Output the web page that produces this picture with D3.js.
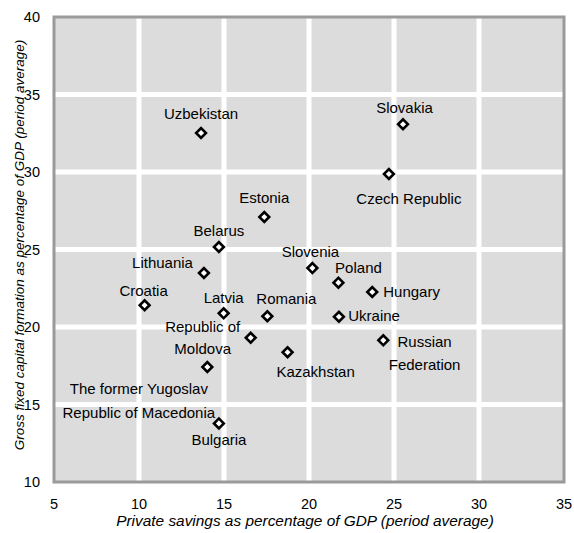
<html>
<head>
<script src="https://d3js.org/d3.v7.min.js"></script>
<style>
body { margin: 0; background: #fff; }
text { font-family: "Liberation Sans", Arial, sans-serif; fill: #000; }
</style>
</head>
<body>
<svg></svg>
<script>

var width = 574;
var height = 533;

// Data
var countries = ["Uzbekistan", "Estonia", "Belarus", "Lithuania", "Croatia", "Latvia", "Romania",
	"Republic of Moldova", "Kazakhstan", "The former Yugoslav Republic of Macedonia", "Bulgaria",
	"Slovenia", "Poland", "Hungary", "Ukraine", "Russian Federation", "Slovakia", "Czech Republic"];
var savings = [13.65, 17.37, 14.7, 13.82, 10.33, 14.98, 17.55, 16.57, 18.74, 14.02, 14.7,
	20.2, 21.73, 23.72, 21.76, 24.37, 25.53, 24.7];
var investment = [32.52, 27.1, 25.16, 23.48, 21.4, 20.88, 20.69, 19.31, 18.37, 17.42, 13.78,
	23.8, 22.86, 22.26, 20.66, 19.14, 33.08, 29.87];
// how each name is broken into lines on the chart
var labelLines = [["Uzbekistan"], ["Estonia"], ["Belarus"], ["Lithuania"], ["Croatia"], ["Latvia"], ["Romania"],
	["Republic of", "Moldova"], ["Kazakhstan"], ["The former Yugoslav", "Republic of Macedonia"], ["Bulgaria"],
	["Slovenia"], ["Poland"], ["Hungary"], ["Ukraine"], ["Russian", "Federation"], ["Slovakia"], ["Czech Republic"]];

var xTicks = [5, 10, 15, 20, 25, 30, 35];
var yTicks = [10, 15, 20, 25, 30, 35, 40];
var xTitle = "Private savings as percentage of GDP (period average)";
var yTitle = "Gross fixed capital formation as percentage of GDP (period average)";

// label placement, px relative to the marker: [anchor, dx, dy of each line]
var labelPlace = [
	["middle", 0, [-14]], ["middle", 0, [-14]], ["middle", 0, [-11]], ["end", -11, [-5.5]],
	["middle", -1, [-9]], ["middle", 0, [-10]], ["middle", 19, [-12]], ["middle", -48, [-6, 16.3]],
	["middle", 28, [25]], ["middle", -68.5, [27.3, 50.7]], ["middle", 0, [21.7]],
	["middle", -2, [-11.3]], ["start", -3.3, [-10]], ["start", 11, [4.7]], ["start", 9.3, [4]],
	["middle", 41.3, [7, 29.7]], ["middle", 1.5, [-11.6]], ["middle", 20, [30.3]]
];

var plot = { left: 54, top: 17, right: 564, bottom: 482 };

var svg = d3.select("svg").attr("width", width).attr("height", height);

var xScale = d3.scaleLinear().domain([5, 35]).range([plot.left, plot.right]);
var yScale = d3.scaleLinear().domain([10, 40]).range([plot.bottom, plot.top]);

// plot background
svg.append("rect")
.attr("x", plot.left).attr("y", plot.top)
.attr("width", plot.right - plot.left).attr("height", plot.bottom - plot.top)
.style("fill", "#dcdcdc");

// white gridlines
svg.selectAll("line.gx").data(xTicks.slice(1, -1)).enter().append("line")
.attr("x1", function (d) { return xScale(d); }).attr("x2", function (d) { return xScale(d); })
.attr("y1", plot.top).attr("y2", plot.bottom)
.style("stroke", "#fff").style("stroke-width", 5);
svg.selectAll("line.gy").data(yTicks.slice(1, -1)).enter().append("line")
.attr("y1", function (d) { return yScale(d); }).attr("y2", function (d) { return yScale(d); })
.attr("x1", plot.left).attr("x2", plot.right)
.style("stroke", "#fff").style("stroke-width", 5);

// frame
svg.append("rect")
.attr("x", plot.left).attr("y", plot.top)
.attr("width", plot.right - plot.left).attr("height", plot.bottom - plot.top)
.style("fill", "none").style("stroke", "#9a9a9a").style("stroke-width", 3);

// tick labels
svg.selectAll("text.xt").data(xTicks).enter().append("text")
.attr("x", function (d) { return xScale(d); }).attr("y", 508.5)
.attr("text-anchor", "middle").style("font-size", "14.5px")
.text(function (d) { return d; });
svg.selectAll("text.yt").data(yTicks).enter().append("text")
.attr("x", 40).attr("y", function (d) { return yScale(d) + 5.3; })
.attr("text-anchor", "end").style("font-size", "14.5px")
.text(function (d) { return d; });

// axis titles
svg.append("text")
.attr("x", 305).attr("y", 526)
.attr("text-anchor", "middle").style("font-size", "15.4px").style("font-style", "italic")
.text(xTitle);
svg.append("text")
.attr("transform", "translate(24,245) rotate(-90)")
.attr("text-anchor", "middle").style("font-size", "13.5px").style("font-style", "italic")
.text(yTitle);

// markers
var diamond = d3.symbol().type(d3.symbolSquare).size(48);
svg.selectAll("path.pt").data(countries).enter().append("path")
.attr("d", diamond)
.attr("transform", function (d, i) {
	return "translate(" + xScale(savings[i]) + "," + yScale(investment[i]) + ") rotate(45)";
})
.style("fill", "#fff").style("stroke", "#000").style("stroke-width", 2.6);

// country labels
countries.forEach(function (name, i) {
	var px = xScale(savings[i]);
	var py = yScale(investment[i]);
	var place = labelPlace[i];
	labelLines[i].forEach(function (line, j) {
		svg.append("text")
		.attr("x", px + place[1]).attr("y", py + place[2][j])
		.attr("text-anchor", place[0]).style("font-size", "15px")
		.text(line);
	});
});

</script>
</body>
</html>
